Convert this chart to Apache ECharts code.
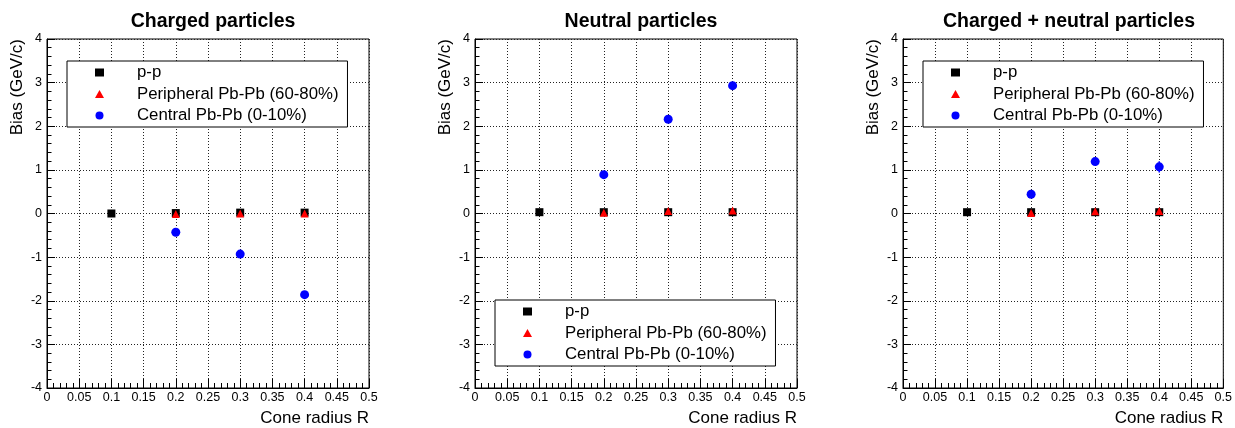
<!DOCTYPE html>
<html>
<head>
<meta charset="utf-8">
<script src="https://cdn.jsdelivr.net/npm/echarts@6/dist/echarts.min.js"></script>
<style>
  html, body { margin: 0; padding: 0; background: #fff; }
  #chartWrapper { width: 1235px; height: 428px; }
</style>
</head>
<body>
<div id="chartWrapper"></div>
<script>
// cone radius values
var radiusPP = [0.1, 0.2, 0.3, 0.4];
var radiusPbPb = [0.2, 0.3, 0.4];

// charged particles
var chargedPP = [0.0, 0.01, 0.02, 0.02];
var chargedPeripheral = [-0.01, 0.0, 0.0];
var chargedCentral = [-0.43, -0.93, -1.86];
var chargedCentralErr = [0.03, 0.04, 0.06];

// neutral particles
var neutralPP = [0.03, 0.03, 0.03, 0.03];
var neutralPeripheral = [0.02, 0.06, 0.07];
var neutralCentral = [0.89, 2.16, 2.93];
var neutralCentralErr = [0.03, 0.05, 0.06];

// charged + neutral
var allPP = [0.03, 0.03, 0.03, 0.03];
var allPeripheral = [0.01, 0.05, 0.06];
var allCentral = [0.44, 1.19, 1.07];
var allCentralErr = [0.04, 0.06, 0.13];

var panelTitles = ['Charged particles', 'Neutral particles', 'Charged + neutral particles'];
var legendNames = ['p-p', 'Peripheral Pb-Pb (60-80%)', 'Central Pb-Pb (0-10%)'];

var font = 'Liberation Sans, Arial, Helvetica, sans-serif';

var panels = [
    { left: 47, legend: { left: 67, top: 61 }, pp: chargedPP, per: chargedPeripheral, cen: chargedCentral, err: chargedCentralErr },
    { left: 475, legend: { left: 495, top: 300 }, pp: neutralPP, per: neutralPeripheral, cen: neutralCentral, err: neutralCentralErr },
    { left: 903, legend: { left: 923, top: 61 }, pp: allPP, per: allPeripheral, cen: allCentral, err: allCentralErr }
];

function pairs(xs, ys) {
    return xs.map(function(x, i) { return [x, ys[i]]; });
}

var option = {
    backgroundColor: '#fff',
    animation: false,
    title: [],
    legend: [],
    grid: [],
    xAxis: [],
    yAxis: [],
    series: []
};

panels.forEach(function(p, i) {
    option.title.push({
        text: panelTitles[i],
        left: p.left + 161,
        top: 7,
        textAlign: 'center',
        textStyle: { fontFamily: font, fontSize: 19.5, fontWeight: 'bold', color: '#000' }
    });

    option.grid.push({
        left: p.left, top: 39, width: 322, height: 349,
        show: true, borderColor: '#000', borderWidth: 1
    });

    option.xAxis.push({
        gridIndex: i,
        type: 'value',
        min: 0, max: 0.5, interval: 0.05,
        name: 'Cone radius R',
        nameLocation: 'end',
        nameGap: 0,
        nameTextStyle: { fontFamily: font, fontSize: 17, color: '#000', align: 'right', verticalAlign: 'top', padding: [22, 0, 0, 0] },
        axisLine: { onZero: false, lineStyle: { color: '#000', width: 1 } },
        axisTick: { inside: true, length: 9, lineStyle: { color: '#000' } },
        minorTick: { show: true, splitNumber: 5, length: 5, lineStyle: { color: '#000' } },
        axisLabel: {
            margin: 3, fontFamily: font, fontSize: 12.5, color: '#000',
            formatter: function(v) { return String(Math.round(v * 100) / 100); }
        },
        splitLine: { show: true, lineStyle: { color: '#222', width: 1, type: [1, 2] } }
    });

    option.yAxis.push({
        gridIndex: i,
        type: 'value',
        min: -4, max: 4, interval: 1,
        name: 'Bias (GeV/c)',
        nameLocation: 'end',
        nameGap: 0,
        nameRotate: 90,
        nameTextStyle: { fontFamily: font, fontSize: 17, color: '#000', align: 'right', verticalAlign: 'bottom', padding: [0, 0, 21, 0] },
        axisLine: { onZero: false, lineStyle: { color: '#000', width: 1 } },
        axisTick: { inside: true, length: 8, lineStyle: { color: '#000' } },
        minorTick: { show: true, splitNumber: 5, length: 4.5, lineStyle: { color: '#000' } },
        axisLabel: { margin: 5, fontFamily: font, fontSize: 12.5, color: '#000' },
        splitLine: { show: true, lineStyle: { color: '#222', width: 1, type: [1, 2] } }
    });

    option.legend.push({
        orient: 'vertical',
        left: p.legend.left,
        top: p.legend.top,
        data: [
            { name: legendNames[0], icon: 'rect', itemStyle: { color: '#000', opacity: 1 } },
            { name: legendNames[1], icon: 'triangle', itemStyle: { color: '#ff0000', opacity: 1 } },
            { name: legendNames[2], icon: 'circle', itemStyle: { color: '#0000ff', opacity: 1 } }
        ],
        itemWidth: 9,
        itemHeight: 8,
        itemGap: 4.5,
        padding: [3, 9, 3, 28],
        borderColor: '#000',
        borderWidth: 1,
        borderRadius: 0,
        backgroundColor: '#fff',
        selectedMode: false,
        textStyle: { fontFamily: font, fontSize: 16.8, color: '#000', padding: [0, 0, 0, 28] }
    });

    // central error bars
    option.series.push({
        type: 'custom',
        xAxisIndex: i, yAxisIndex: i,
        data: radiusPbPb.map(function(x, k) { return [x, p.cen[k], p.err[k]]; }),
        encode: { x: 0, y: 1 },
        renderItem: function(params, api) {
            var lo = api.coord([api.value(0), api.value(1) - api.value(2)]);
            var hi = api.coord([api.value(0), api.value(1) + api.value(2)]);
            return {
                type: 'line',
                shape: { x1: lo[0], y1: lo[1], x2: hi[0], y2: hi[1] },
                style: { stroke: '#0000ff', lineWidth: 1.5 }
            };
        },
        z: 2
    });

    option.series.push({
        name: legendNames[0], type: 'scatter', xAxisIndex: i, yAxisIndex: i,
        data: pairs(radiusPP, p.pp), symbol: 'rect', symbolSize: 8,
        itemStyle: { color: '#000', opacity: 1 }, z: 3
    });
    option.series.push({
        name: legendNames[1], type: 'scatter', xAxisIndex: i, yAxisIndex: i,
        data: pairs(radiusPbPb, p.per), symbol: 'triangle', symbolSize: 8,
        itemStyle: { color: '#ff0000', opacity: 1 }, z: 4
    });
    option.series.push({
        name: legendNames[2], type: 'scatter', xAxisIndex: i, yAxisIndex: i,
        data: pairs(radiusPbPb, p.cen), symbol: 'circle', symbolSize: 9,
        itemStyle: { color: '#0000ff', opacity: 1 }, z: 5
    });
});

var myChart = echarts.init(document.getElementById('chartWrapper'));
myChart.setOption(option);
</script>
</body>
</html>
